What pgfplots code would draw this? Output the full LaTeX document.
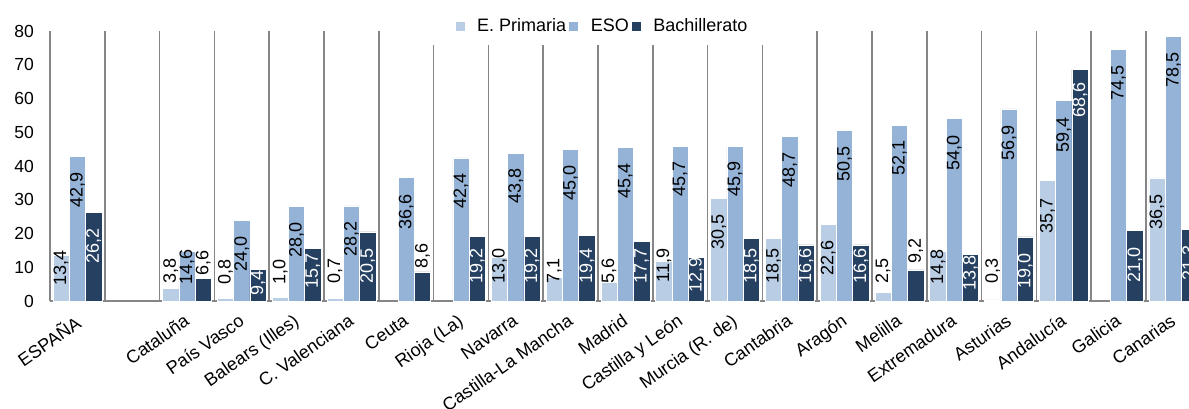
\documentclass[border=0pt]{standalone}
\usepackage{fontspec}
\setmainfont{Liberation Sans}
\usepackage{pgfplots}
\usepackage{pgfplotstable}
\pgfplotsset{compat=1.18}
\definecolor{cPri}{RGB}{185,205,229}
\definecolor{cESO}{RGB}{149,179,215}
\definecolor{cBach}{RGB}{37,64,97}
\definecolor{cGrid}{RGB}{134,134,134}

% x = category position, v = value, lt = label top (px from image top), k = label blackness (100 black, 0 white)
\pgfplotstableread{
x v lt k
0 13.4 250 100
2 3.8 258 100
3 0.8 259 100
4 1.0 259 100
5 0.7 258 100
8 13.0 248 100
9 7.1 258 100
10 5.6 258 100
11 11.9 248 100
12 30.5 214 100
13 18.5 248 100
14 22.6 240 100
15 2.5 258 100
16 14.8 249 100
17 0.3 258 100
18 35.7 198 100
20 36.5 194 100
}\tPri

\pgfplotstableread{
x v lt k
0 42.9 172 100
2 14.6 249 100
3 24.0 236 100
4 28.0 222 100
5 28.2 221 100
6 36.6 194 100
7 42.4 173 100
8 43.8 168 100
9 45.0 165 100
10 45.4 163 100
11 45.7 161 100
12 45.9 161 100
13 48.7 152 100
14 50.5 146 100
15 52.1 140 100
16 54.0 135 100
17 56.9 125 100
18 59.4 117 100
19 74.5 65 100
20 78.5 52 100
}\tESO

\pgfplotstableread{
x v lt k
0 26.2 228 0
2 6.6 250 100
3 9.4 270 0
4 15.7 253 0
5 20.5 248 0
6 8.6 243 100
7 19.2 248 0
8 19.2 248 0
9 19.4 248 0
10 17.7 248 0
11 12.9 257 0
12 18.5 248 0
13 16.6 248 0
14 16.6 248 0
15 9.2 238 100
16 13.8 255 0
17 19.0 253 0
18 68.6 82 0
19 21.0 247 0
20 21.3 245 0
}\tBach

\newcommand\fsA{\fontsize{17.5}{20}\selectfont}
\newcommand\fsB{\fontsize{18}{21}\selectfont}
\newcommand\fsC{\fontsize{18}{21}\selectfont}

\pgfplotsset{
  sqleg/.style={legend image code/.code={\fill[##1] (0pt,-5pt) rectangle (10pt,5pt);}},
  vallab/.style={
    visualization depends on={\thisrow{v}\as\vv},
    visualization depends on={\thisrow{lt}\as\lbt},
    visualization depends on={\thisrow{k}\as\kblk},
    nodes near coords={\pgfmathprintnumber[fixed,fixed zerofill,precision=1,use comma,assume math mode=true]{\pgfplotspointmeta}},
    every node near coord/.append style={yshift={(301-3.375*\vv-\lbt)*1pt}, rotate=90, anchor=east, inner sep=0pt, font=\fsB, text=black!\kblk!white},
  },
}

\begin{document}
\begin{tikzpicture}
\useasboundingbox (0pt,0pt) rectangle (1189pt,408pt);
\begin{axis}[
  at={(50pt,107pt)}, anchor=south west,
  scale only axis, width=1150.8pt, height=270pt,
  xmin=-0.5, xmax=20.5, ymin=0, ymax=80,
  ybar=0pt, bar width=16.3pt,
  axis x line=bottom, axis y line=left,
  axis line style={-, draw=cGrid, line width=1.5pt},
  xtick={0,2,3,4,5,6,7,8,9,10,11,12,13,14,15,16,17,18,19,20},
  xticklabels={ESPAÑA, Cataluña, País Vasco, Balears (Illes), C. Valenciana, Ceuta, Rioja (La), Navarra, Castilla-La Mancha, Madrid, Castilla y León, Murcia (R. de), Cantabria, Aragón, Melilla, Extremadura, Asturias, Andalucía, Galicia, Canarias},
  minor xtick={-0.5,0.5,...,20.5},
  xminorgrids=true,
  minor x grid style={draw=cGrid, line width=1.5pt},
  ytick={0,10,...,80},
  major tick length=0pt, minor tick length=0pt,
  tick style={draw=none},
  /pgf/number format/assume math mode=true,
  yticklabel style={font=\fsA, inner sep=0pt, xshift=-16pt, anchor=east},
  x tick label style={font=\fsC, inner sep=0pt, yshift=-12pt, xshift=-4pt, anchor=north east, rotate=35},
  legend columns=3,
  legend style={at={(0.4797,1.0185)}, anchor=center, fill=white, draw=none, font=\fsB,
    inner xsep=25pt, inner ysep=10pt,
    /tikz/every odd column/.append style={column sep=10pt}},
  clip=true,
]
\addplot[fill=cPri, draw=white, line width=0.6pt, sqleg, vallab] table[x=x, y=v, meta=v] {\tPri};
\addplot[fill=cESO, draw=white, line width=0.6pt, sqleg, vallab] table[x=x, y=v, meta=v] {\tESO};
\addplot[fill=cBach, draw=white, line width=0.6pt, sqleg, vallab] table[x=x, y=v, meta=v] {\tBach};
\legend{E. Primaria, ESO, Bachillerato}
\end{axis}
\end{tikzpicture}
\end{document}
